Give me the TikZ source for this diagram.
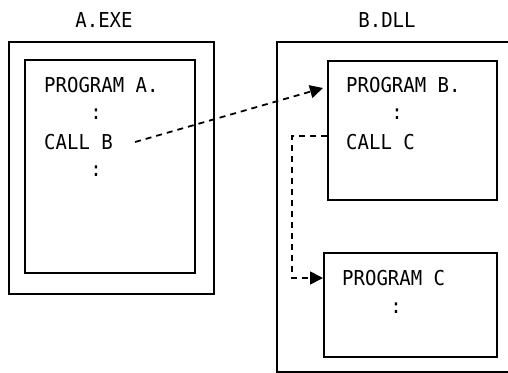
\documentclass[tikz,border=0pt]{standalone}
\usepackage{fontspec}
\newfontfamily\codefont{DejaVu Sans Mono}
\usetikzlibrary{positioning, arrows.meta, calc}
\newcommand{\listing}[1]{\scalebox{1}[1.08]{#1}}
\tikzset{
  modulebox/.style={
    rectangle,
    draw=black,
    line width=1.6pt,
    anchor=north west,
    inner sep=0pt
  },
  codeline/.style={
    font=\codefont\fontsize{19}{19}\selectfont,
    anchor=west,
    inner sep=0pt
  },
  callarrow/.style={
    -{Triangle[length=13pt,width=13pt]},
    line width=1.8pt,
    dash pattern=on 6pt off 5pt
  }
}

\begin{document}
\begin{tikzpicture}[x=1pt, y=-1pt]
  \clip (0,0) rectangle (508,372);
  \useasboundingbox (0,0) rectangle (508,372);
  % module titles
  \node[codeline, anchor=center] (exetitle) at (104,20) {\listing{A.EXE}};
  \node[codeline, anchor=center] (dlltitle) at (387,20) {\listing{B.DLL}};
  % outer module frames
  \node[modulebox, minimum width=205pt, minimum height=252pt] (exe) at (8,41) {};
  \node[modulebox, minimum width=250pt, minimum height=330pt] (dll) at (276,41) {};
  % program frames
  \node[modulebox, minimum width=170pt, minimum height=213pt] (proga) at (24,59) {};
  \node[modulebox, minimum width=169pt, minimum height=139pt] (progb) at (327,60) {};
  \node[modulebox, minimum width=173pt, minimum height=104pt] (progc) at (323,252) {};
  % program text
  \node[codeline] (heada) at (44,85) {\listing{PROGRAM A.}};
  \node[codeline, anchor=center] (dotsa1) at (96,114) {\listing{:}};
  \node[codeline] (callb) at (44,142) {\listing{CALL B}};
  \node[codeline, anchor=center] (dotsa2) at (96,171) {\listing{:}};
  \node[codeline] (headb) at (346,85) {\listing{PROGRAM B.}};
  \node[codeline, anchor=center] (dotsb) at (397,114) {\listing{:}};
  \node[codeline] (callc) at (346,142) {\listing{CALL C}};
  \node[codeline] (headc) at (342,278) {\listing{PROGRAM C}};
  \node[codeline, anchor=center] (dotsc) at (396,308) {\listing{:}};
  % calls
  \coordinate (bend) at (292,136);
  \draw[callarrow] ($(callb.east)+(22,0)$) -- ($(progb.west |- headb)+(-4,3)$);
  \draw[callarrow] (progb.west |- bend) -- (bend) |- (progc.west |- headc);
\end{tikzpicture}
\end{document}
